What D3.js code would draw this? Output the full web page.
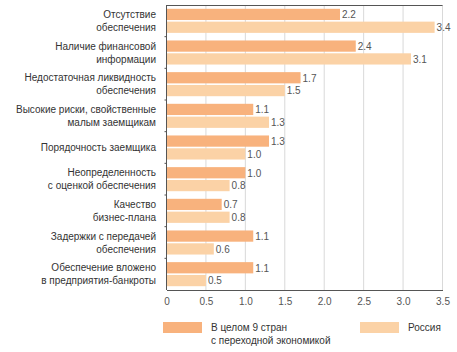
<!DOCTYPE html>
<html>
<head>
<meta charset="utf-8">
<script src="https://cdn.jsdelivr.net/npm/d3@7"></script>
<style>
  body { margin: 0; background: #fff; }
  svg { font-family: "Liberation Sans", Arial, sans-serif; }
</style>
</head>
<body>
<div id="chart"></div>
<script>
// Categories (two-line labels)
var categories = [
  ["Отсутствие", "обеспечения"],
  ["Наличие финансовой", "информации"],
  ["Недостаточная ликвидность", "обеспечения"],
  ["Высокие риски, свойственные", "малым заемщикам"],
  ["Порядочность заемщика"],
  ["Неопределенность", "с оценкой обеспечения"],
  ["Качество", "бизнес-плана"],
  ["Задержки с передачей", "обеспечения"],
  ["Обеспечение вложено", "в предприятия-банкроты"]
];
var allCountries = [2.2, 2.4, 1.7, 1.1, 1.3, 1.0, 0.7, 1.1, 1.1];
var russia = [3.4, 3.1, 1.5, 1.3, 1.0, 0.8, 0.8, 0.6, 0.5];
var seriesNames = [["В целом 9 стран", "с переходной экономикой"], ["Россия"]];
var xTicks = [0, 0.5, 1.0, 1.5, 2.0, 2.5, 3.0, 3.5];

var colors = ["#f8b27d", "#fbd2a6"];

var W = 457, H = 352;
var svg = d3.select("#chart").append("svg")
    .attr("width", W)
    .attr("height", H);

var x = d3.scaleLinear().domain([0, 3.5]).range([166.5, 442.5]);
var y = d3.scaleBand()
    .domain(d3.range(categories.length))
    .range([5, 290])
    .paddingInner(0.24)
    .paddingOuter(0.12);
var bh = y.bandwidth() / 2;

// Gridlines
svg.append("g")
  .selectAll("line")
  .data(xTicks.slice(1))
  .enter().append("line")
    .attr("x1", d => x(d)).attr("x2", d => x(d))
    .attr("y1", 5).attr("y2", 290)
    .attr("stroke", "#d9d9d9")
    .attr("stroke-width", 1);

// Bars
var groups = svg.append("g")
  .selectAll("g")
  .data(categories.map((c, i) => ({c: c, i: i, a: allCountries[i], r: russia[i]})))
  .enter().append("g");

groups.append("rect")
    .attr("x", x(0))
    .attr("y", d => y(d.i))
    .attr("width", d => x(d.a) - x(0))
    .attr("height", bh - 0.8)
    .attr("fill", colors[0]);

groups.append("rect")
    .attr("x", x(0))
    .attr("y", d => y(d.i) + bh + 0.8)
    .attr("width", d => x(d.r) - x(0))
    .attr("height", bh - 0.8)
    .attr("fill", colors[1]);

var fmt = d3.format(".1f");
groups.append("text")
    .attr("x", d => x(d.a) + 2)
    .attr("y", d => y(d.i) + bh / 2 + 3.5)
    .attr("font-size", 10)
    .attr("fill", "#555")
    .text(d => fmt(d.a));

groups.append("text")
    .attr("x", d => x(d.r) + 2)
    .attr("y", d => y(d.i) + bh * 1.5 + 4)
    .attr("font-size", 10)
    .attr("fill", "#555")
    .text(d => fmt(d.r));

// Category labels
groups.append("text")
    .attr("text-anchor", "end")
    .attr("font-size", 10)
    .attr("fill", "#333")
    .each(function(d) {
        var t = d3.select(this);
        var cy = y(d.i) + y.bandwidth() / 2;
        var n = d.c.length;
        d.c.forEach(function(line, k) {
            t.append("tspan")
                .attr("x", 156)
                .attr("y", cy + 3.5 + (k - (n - 1) / 2) * 13)
                .text(line);
        });
    });

// Frame lines: top, left, bottom axis
svg.append("line")
    .attr("x1", x(0)).attr("x2", x(3.5))
    .attr("y1", 5.5).attr("y2", 5.5)
    .attr("stroke", "#555");
svg.append("line")
    .attr("x1", x(0)).attr("x2", x(0))
    .attr("y1", 5).attr("y2", 290)
    .attr("stroke", "#555");

// Small ticks between groups on left axis
svg.append("g")
  .selectAll("line")
  .data(d3.range(1, categories.length))
  .enter().append("line")
    .attr("x1", x(0) - 2).attr("x2", x(0))
    .attr("y1", d => y(d) - y.step() * y.paddingInner() / 2)
    .attr("y2", d => y(d) - y.step() * y.paddingInner() / 2)
    .attr("stroke", "#555");

var xAxis = svg.append("g")
    .attr("transform", "translate(0,290)")
    .call(d3.axisBottom(x).tickValues(xTicks).tickFormat(d3.format(".1~f")).tickSize(0).tickPadding(8));
xAxis.select(".domain").attr("stroke", "#555");
xAxis.selectAll("text")
    .attr("font-size", 10)
    .attr("fill", "#555")
    .attr("font-family", "Liberation Sans, Arial, sans-serif")
    .text(d => d === 0 ? "0" : fmt(d));

// Legend
var legend = svg.append("g");
var legX = [163, 360];
seriesNames.forEach(function(name, i) {
    legend.append("rect")
        .attr("x", legX[i]).attr("y", 322)
        .attr("width", 39).attr("height", 11)
        .attr("fill", colors[i]);
    var t = legend.append("text")
        .attr("font-size", 10)
        .attr("fill", "#333");
    name.forEach(function(line, k) {
        t.append("tspan")
            .attr("x", legX[i] + 48)
            .attr("y", 331 + k * 13)
            .text(line);
    });
});
</script>
</body>
</html>
